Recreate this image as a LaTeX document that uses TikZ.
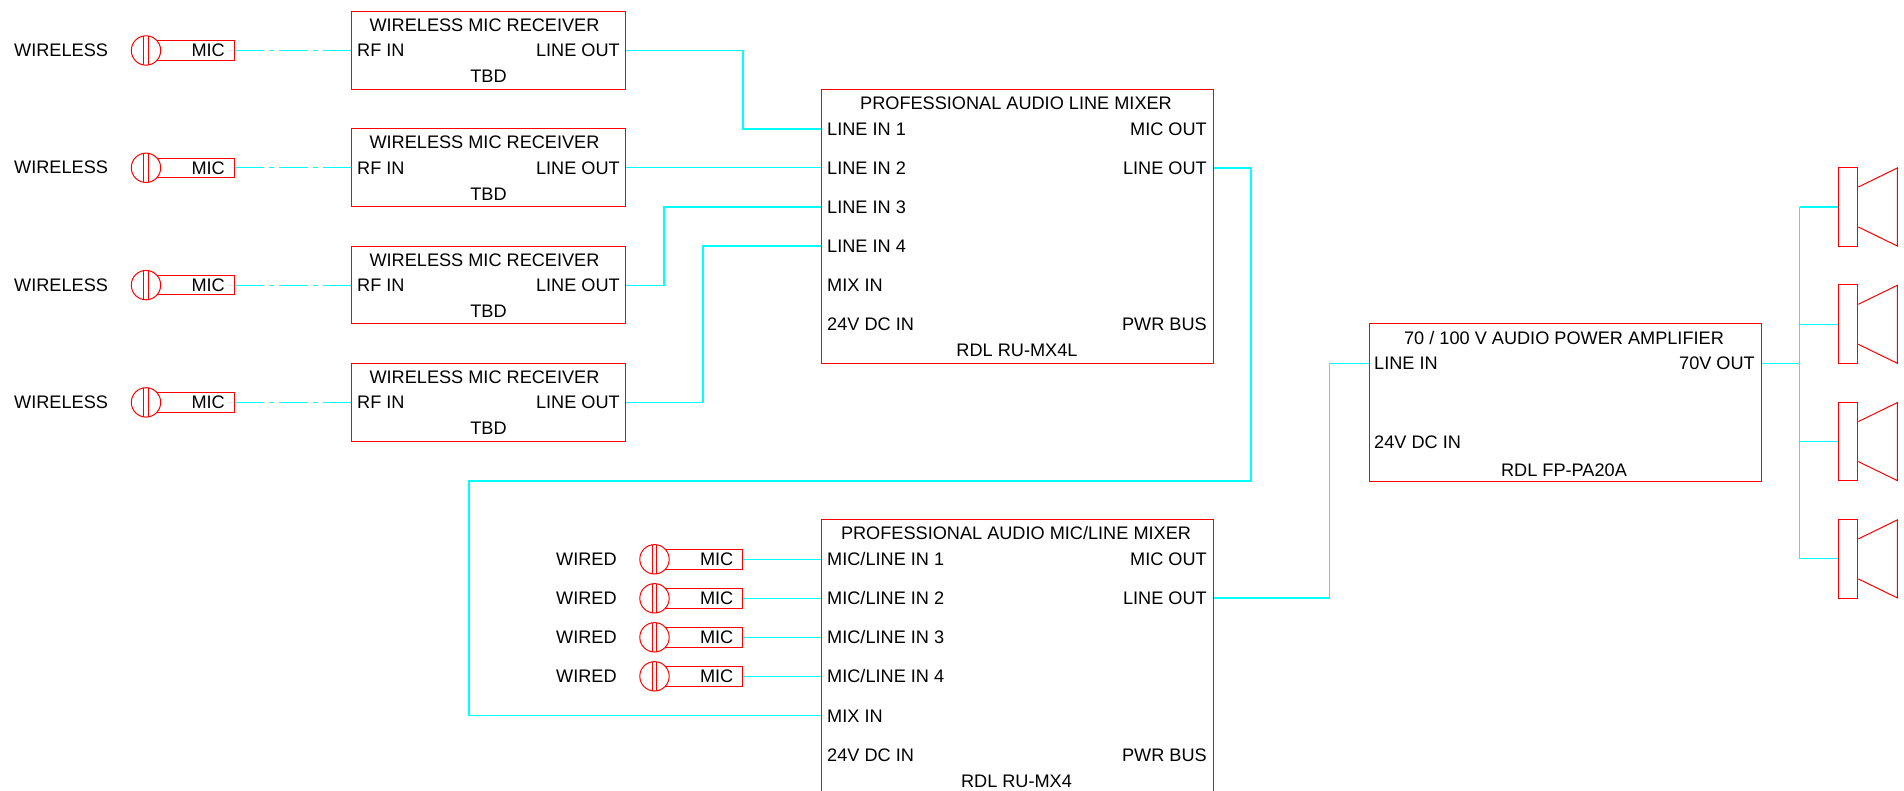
\documentclass[tikz,border=0pt]{standalone}
\usepackage{fontspec}
\setmainfont{Liberation Sans}
\usepackage{xcolor}
\usepackage{tikz}
\usetikzlibrary{calc}
\usetikzlibrary{positioning}
\definecolor{wirecyan}{RGB}{0,255,255}
\definecolor{boxred}{RGB}{255,0,0}
\tikzset{
	devbox/.style={draw=boxred,line width=1pt,inner sep=0pt,fill=white},
	rxbox/.style={devbox,minimum width=273.5pt,minimum height=77.8pt},
	micbody/.style={devbox,minimum width=77.5pt,minimum height=19.5pt},
	michead/.style={devbox,circle,minimum size=29.4pt},
	spkbox/.style={devbox,minimum width=19.6pt,minimum height=78.6pt},
	redline/.style={boxred,line width=1pt},
	wire/.style={wirecyan,line width=1.1pt},
	rflink/.style={wire,dash pattern=on 29pt off 5pt on 5pt off 5pt},
	txt/.style={inner sep=0pt,font=\fontsize{18.15}{20}\selectfont,text height=13pt,text depth=0pt},
	txtl/.style={txt,anchor=west},
	txtr/.style={txt,anchor=east},
}
\begin{document}
\begin{tikzpicture}[x=1pt,y=-1pt]
	\useasboundingbox (0,0) rectangle (1904,791);
	% wireless mics
	\node[txtl] (wla) at (14,50) {WIRELESS};
	\node[txtl] (wlb) at (14,167.5) {WIRELESS};
	\node[txtl] (wlc) at (14,285) {WIRELESS};
	\node[txtl] (wld) at (14,402) {WIRELESS};
	\node[micbody] (mba) at (195.7,50.5) {};
	\node[micbody] (mbb) at (195.7,167.8) {};
	\node[micbody] (mbc) at (195.7,285.1) {};
	\node[micbody] (mbd) at (195.7,402.4) {};
	\node[michead] (mha) at (146,50.5) {};
	\node[michead] (mhb) at (146,167.8) {};
	\node[michead] (mhc) at (146,285.1) {};
	\node[michead] (mhd) at (146,402.4) {};
	\draw[redline] ($(mha)+(-2.2,-14.5)$)--($(mha)+(-2.2,14.5)$);
	\draw[redline] ($(mha)+(2.4,-14.5)$)--($(mha)+(2.4,14.5)$);
	\draw[redline] ($(mhb)+(-2.2,-14.5)$)--($(mhb)+(-2.2,14.5)$);
	\draw[redline] ($(mhb)+(2.4,-14.5)$)--($(mhb)+(2.4,14.5)$);
	\draw[redline] ($(mhc)+(-2.2,-14.5)$)--($(mhc)+(-2.2,14.5)$);
	\draw[redline] ($(mhc)+(2.4,-14.5)$)--($(mhc)+(2.4,14.5)$);
	\draw[redline] ($(mhd)+(-2.2,-14.5)$)--($(mhd)+(-2.2,14.5)$);
	\draw[redline] ($(mhd)+(2.4,-14.5)$)--($(mhd)+(2.4,14.5)$);
	\node[txtr] (mta) at (225,50.5) {MIC};
	\node[txtr] (mtb) at (225,167.8) {MIC};
	\node[txtr] (mtc) at (225,285.1) {MIC};
	\node[txtr] (mtd) at (225,402.4) {MIC};
	% receivers
	\node[rxbox] (rxa) at (488.4,50.5) {};
	\node[rxbox] (rxb) at (488.4,167.8) {};
	\node[rxbox] (rxc) at (488.4,285.1) {};
	\node[rxbox] (rxd) at (488.4,402.4) {};
	\node[txt] (rta) at (484.5,25) {WIRELESS MIC RECEIVER};
	\node[txt] (rtb) at (484.5,142.3) {WIRELESS MIC RECEIVER};
	\node[txt] (rtc) at (484.5,259.6) {WIRELESS MIC RECEIVER};
	\node[txt] (rtd) at (484.5,376.9) {WIRELESS MIC RECEIVER};
	\node[txtl] (ria) at (357,50.5) {RF IN};
	\node[txtl] (rib) at (357,167.8) {RF IN};
	\node[txtl] (ric) at (357,285.1) {RF IN};
	\node[txtl] (rid) at (357,402.4) {RF IN};
	\node[txtr] (roa) at (620,50.5) {LINE OUT};
	\node[txtr] (rob) at (620,167.8) {LINE OUT};
	\node[txtr] (roc) at (620,285.1) {LINE OUT};
	\node[txtr] (rod) at (620,402.4) {LINE OUT};
	\node[txt] (tba) at (488.5,76.5) {TBD};
	\node[txt] (tbb) at (488.5,193.8) {TBD};
	\node[txt] (tbc) at (488.5,311.1) {TBD};
	\node[txt] (tbd) at (488.5,428.4) {TBD};
	% line mixer
	\node[devbox,minimum width=392pt,minimum height=273.5pt] (mxa) at (1017,226.5) {};
	\node[txt] (mxat) at (1016,103) {PROFESSIONAL AUDIO LINE MIXER};
	\node[txtl] (lia) at (827,129) {LINE IN 1};
	\node[txtl] (lib) at (827,168) {LINE IN 2};
	\node[txtl] (lic) at (827,207) {LINE IN 3};
	\node[txtl] (lid) at (827,246) {LINE IN 4};
	\node[txtl] (mxai) at (827,285) {MIX IN};
	\node[txtl] (dca) at (827,324) {24V DC IN};
	\node[txtr] (moa) at (1207,129) {MIC OUT};
	\node[txtr] (loa) at (1207,168) {LINE OUT};
	\node[txtr] (pwa) at (1207,324) {PWR BUS};
	\node[txt] (rdla) at (1017,350.5) {RDL RU-MX4L};
	% mic/line mixer
	\node[devbox,minimum width=392pt,minimum height=273.5pt] (mxb) at (1017,656.5) {};
	\node[txt] (mxbt) at (1016,532.5) {PROFESSIONAL AUDIO MIC/LINE MIXER};
	\node[txtl] (mla) at (827,559) {MIC/LINE IN 1};
	\node[txtl] (mlb) at (827,598) {MIC/LINE IN 2};
	\node[txtl] (mlc) at (827,637) {MIC/LINE IN 3};
	\node[txtl] (mld) at (827,676) {MIC/LINE IN 4};
	\node[txtl] (mxbi) at (827,715.5) {MIX IN};
	\node[txtl] (dcb) at (827,754.5) {24V DC IN};
	\node[txtr] (mob) at (1207,559) {MIC OUT};
	\node[txtr] (lob) at (1207,598) {LINE OUT};
	\node[txtr] (pwb) at (1207,754.5) {PWR BUS};
	\node[txt] (rdlb) at (1016.5,781) {RDL RU-MX4};
	% wired mics
	\node[txtl] (wda) at (556,559) {WIRED};
	\node[txtl] (wdb) at (556,598) {WIRED};
	\node[txtl] (wdc) at (556,637) {WIRED};
	\node[txtl] (wdd) at (556,676) {WIRED};
	\node[micbody] (mbe) at (704.2,559.3) {};
	\node[micbody] (mbf) at (704.2,598.3) {};
	\node[micbody] (mbg) at (704.2,637.3) {};
	\node[micbody] (mbh) at (704.2,676.3) {};
	\node[michead] (mhe) at (654.5,559.3) {};
	\node[michead] (mhf) at (654.5,598.3) {};
	\node[michead] (mhg) at (654.5,637.3) {};
	\node[michead] (mhh) at (654.5,676.3) {};
	\draw[redline] ($(mhe)+(-2.2,-14.5)$)--($(mhe)+(-2.2,14.5)$);
	\draw[redline] ($(mhe)+(2.4,-14.5)$)--($(mhe)+(2.4,14.5)$);
	\draw[redline] ($(mhf)+(-2.2,-14.5)$)--($(mhf)+(-2.2,14.5)$);
	\draw[redline] ($(mhf)+(2.4,-14.5)$)--($(mhf)+(2.4,14.5)$);
	\draw[redline] ($(mhg)+(-2.2,-14.5)$)--($(mhg)+(-2.2,14.5)$);
	\draw[redline] ($(mhg)+(2.4,-14.5)$)--($(mhg)+(2.4,14.5)$);
	\draw[redline] ($(mhh)+(-2.2,-14.5)$)--($(mhh)+(-2.2,14.5)$);
	\draw[redline] ($(mhh)+(2.4,-14.5)$)--($(mhh)+(2.4,14.5)$);
	\node[txtr] (mte) at (733.5,559.3) {MIC};
	\node[txtr] (mtf) at (733.5,598.3) {MIC};
	\node[txtr] (mtg) at (733.5,637.3) {MIC};
	\node[txtr] (mth) at (733.5,676.3) {MIC};
	% amplifier
	\node[devbox,minimum width=392pt,minimum height=157pt] (amp) at (1565,402.5) {};
	\node[txt] (ampt) at (1564,338) {70 / 100 V AUDIO POWER AMPLIFIER};
	\node[txtl] (ampi) at (1374,363.5) {LINE IN};
	\node[txtr] (ampo) at (1755,363.5) {70V OUT};
	\node[txtl] (ampd) at (1374,442) {24V DC IN};
	\node[txt] (rdlc) at (1564,470) {RDL FP-PA20A};
	% speakers
	\node[spkbox] (spa) at (1848,207) {};
	\node[spkbox] (spb) at (1848,324.3) {};
	\node[spkbox] (spc) at (1848,441.6) {};
	\node[spkbox] (spd) at (1848,558.9) {};
	\draw[redline] ($(spa.east)+(0,-20)$)--($(spa.east)+(39,-39)$)--($(spa.east)+(39,39)$)--($(spa.east)+(0,20)$);
	\draw[redline] ($(spb.east)+(0,-20)$)--($(spb.east)+(39,-39)$)--($(spb.east)+(39,39)$)--($(spb.east)+(0,20)$);
	\draw[redline] ($(spc.east)+(0,-20)$)--($(spc.east)+(39,-39)$)--($(spc.east)+(39,39)$)--($(spc.east)+(0,20)$);
	\draw[redline] ($(spd.east)+(0,-20)$)--($(spd.east)+(39,-39)$)--($(spd.east)+(39,39)$)--($(spd.east)+(0,20)$);
	\coordinate (bust) at (1799.5,207);
	\coordinate (busb) at (1799.5,558.9);
	% wiring
	\draw[rflink] (mba.east)--(rxa.west);
	\draw[rflink] (mbb.east)--(rxb.west);
	\draw[rflink] (mbc.east)--(rxc.west);
	\draw[rflink] (mbd.east)--(rxd.west);
	\draw[wire] (rxa.east)-|(743,129)--(mxa.west |- lia);
	\draw[wire] (rxb.east)--(mxa.west |- rxb);
	\draw[wire] (rxc.east)-|(664,207)--(mxa.west |- lic);
	\draw[wire] (rxd.east)-|(703,246)--(mxa.west |- lid);
	\draw[wire] (mxa.east |- loa)-|(1251,481)-|(469,715.5)--(mxb.west |- mxbi);
	\draw[wire] (mbe.east)--(mxb.west |- mbe);
	\draw[wire] (mbf.east)--(mxb.west |- mbf);
	\draw[wire] (mbg.east)--(mxb.west |- mbg);
	\draw[wire] (mbh.east)--(mxb.west |- mbh);
	\draw[wire] (mxb.east |- lob)-|(1329.6,363.5)--(amp.west |- ampi);
	\draw[wire] (amp.east |- ampo)--(bust |- ampo);
	\draw[wire] (bust)--(busb);
	\draw[wire] (bust)--(spa.west);
	\draw[wire] (bust |- spb)--(spb.west);
	\draw[wire] (bust |- spc)--(spc.west);
	\draw[wire] (busb)--(spd.west);
\end{tikzpicture}
\end{document}
